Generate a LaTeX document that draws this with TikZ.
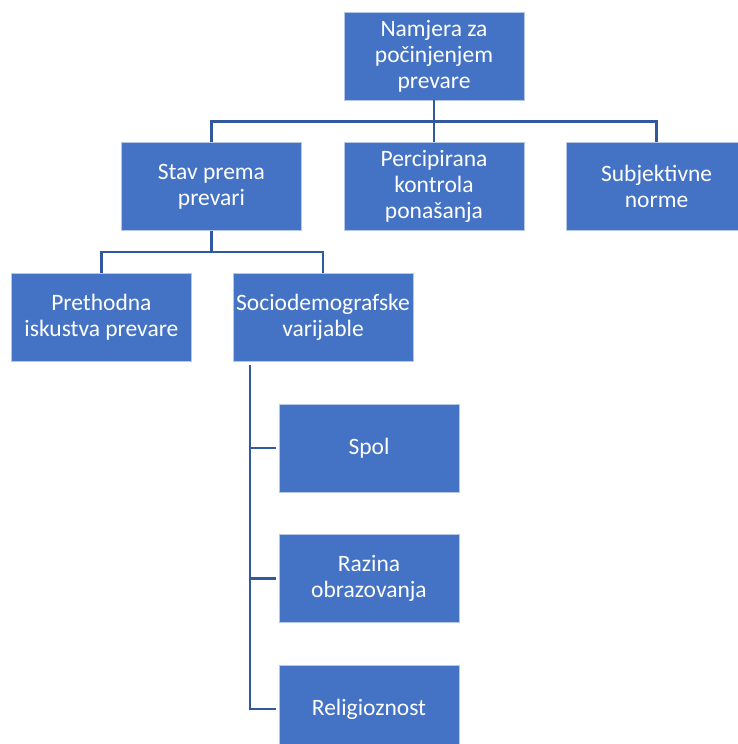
\documentclass[tikz,border=0pt]{standalone}
\usepackage{fontspec}
\setmainfont{Carlito}
\usepackage{tikz}
\usetikzlibrary{positioning}
\definecolor{boxblue}{RGB}{68,114,196}
\definecolor{lineblue}{RGB}{50,88,160}

\begin{document}
\begin{tikzpicture}[x=1pt,y=-1pt,node distance=42pt,
                    box/.style={rectangle,draw=white!60!boxblue,line width=0.6pt,fill=boxblue,
                                text=white,align=center,minimum width=180pt,minimum height=88pt,
                                inner sep=0pt,font=\fontsize{23.5}{26}\selectfont},
                    conn/.style={draw=lineblue,line width=2.4pt}]

      \useasboundingbox (0,0) rectangle (738,744);

      \node[box] (namjera) at (434,56) {Namjera za\\počinjenjem\\prevare};
      \node[box] (percip) [below=of namjera] {Percipirana\\kontrola\\ponašanja};
      \node[box] (stav) [left=of percip] {Stav prema\\prevari};
      \node[box] (subj) [right=of percip] {Subjektivne\\norme};
      \node[box] (preth) [below=of stav,xshift=-110pt] {Prethodna\\iskustva prevare};
      \node[box] (socio) [right=41pt of preth] {Sociodemografske\\varijable};
      \node[box] (spol) [below=of socio,xshift=46pt] {Spol};
      \node[box] (razina) [below=of spol] {Razina\\obrazovanja};
      \node[box] (relig) [below=of razina] {Religioznost};

      % top level
      \draw[conn] (namjera.south) -- (percip.north);
      \draw[conn] (stav.north) -- ++(0,-21) -| (subj.north);
      % stav
      \draw[conn] (stav.south) -- ++(0,21) coordinate (bus2);
      \draw[conn] (preth.north) |- (bus2) -| (socio.north);
      % socio
      \draw[conn] ([xshift=17pt,yshift=-3pt]socio.south west) |- ([xshift=-3pt]relig.west);
      \foreach \n in {spol,razina}
        \draw[conn] ([xshift=-3pt]\n.west) -- ++(-27,0);
\end{tikzpicture}
\end{document}
